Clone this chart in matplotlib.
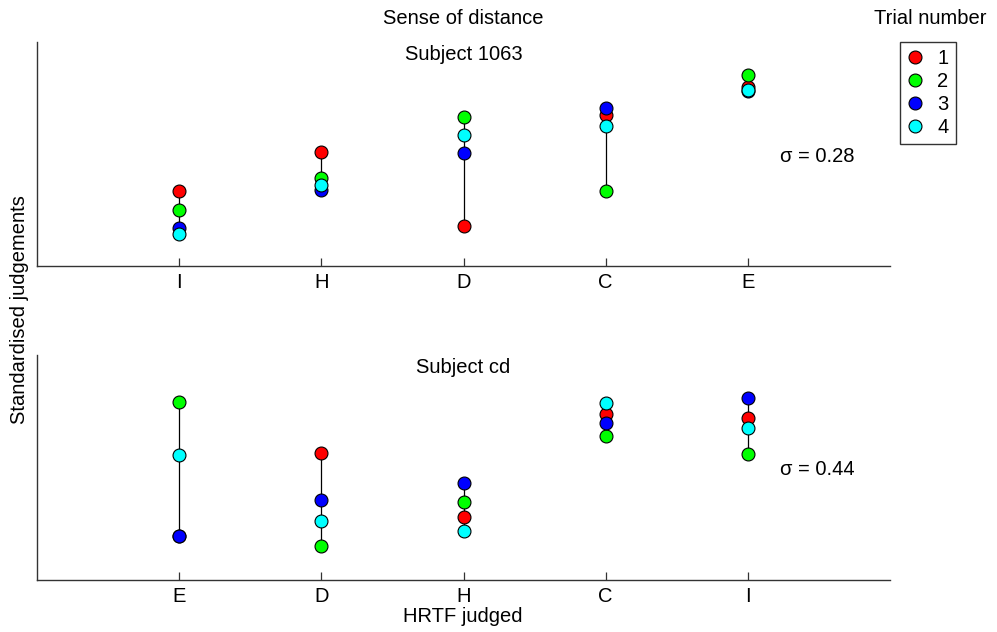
import matplotlib
matplotlib.use("Agg")
import matplotlib.pyplot as plt
from matplotlib.lines import Line2D

plt.rcParams["font.family"] = ["Liberation Sans", "DejaVu Sans"]

TRIALS = ["1", "2", "3", "4"]
TRIAL_COLORS = ["#ff0000", "#00ff00", "#0000ff", "#00ffff"]

# Subject 1063: HRTF order along the x axis, one list per trial
CATS_1063 = ["I", "H", "D", "C", "E"]
T1_1063 = [-0.83, 0.04, -1.61, 0.88, 1.50]
T2_1063 = [-1.24, -0.54, 0.82, -0.83, 1.77]
T3_1063 = [-1.65, -0.80, 0.03, 1.03, 1.40]
T4_1063 = [-1.79, -0.70, 0.43, 0.62, 1.44]
SIGMA_1063 = 0.28

# Subject cd
CATS_CD = ["E", "D", "H", "C", "I"]
T1_CD = [-1.53, 0.32, -1.10, 1.18, 1.10]
T2_CD = [1.46, -1.74, -0.76, 0.69, 0.30]
T3_CD = [-1.52, -0.73, -0.34, 0.99, 1.55]
T4_CD = [0.27, -1.19, -1.42, 1.43, 0.87]
SIGMA_CD = 0.44

FS = 14.5
SPINE = "#333333"


def panel(ax, cats, trials, title, sigma):
    x = list(range(1, len(cats) + 1))
    for i, xi in enumerate(x):
        vals = [t[i] for t in trials]
        ax.plot([xi, xi], [min(vals), max(vals)], color="black", lw=0.9, zorder=1)
    for t, c in zip(trials, TRIAL_COLORS):
        ax.plot(x, t, "o", ls="none", ms=9.3, mfc=c, mec="black", mew=0.8, zorder=2)
    ax.set_xlim(0, 6)
    ax.set_ylim(-2.5, 2.5)
    ax.set_xticks(x)
    ax.set_xticklabels(cats, fontsize=FS)
    ax.set_yticks([])
    ax.tick_params(axis="x", direction="in", length=6, width=0.9, color=SPINE, pad=5)
    for s in ["top", "right"]:
        ax.spines[s].set_visible(False)
    for s in ["left", "bottom"]:
        ax.spines[s].set_color(SPINE)
        ax.spines[s].set_linewidth(1.0)
    ax.text(3, 2.22, title, ha="center", va="center", fontsize=FS)
    ax.text(5.49, -0.05, f"\u03c3 = {sigma:.2f}", ha="center", va="center", fontsize=FS)


fig = plt.figure(figsize=(9.97, 6.32), dpi=100)
ax1 = fig.add_axes([0.0371, 0.5791, 0.8556, 0.3544])
ax2 = fig.add_axes([0.0371, 0.0823, 0.8556, 0.3560])

panel(ax1, CATS_1063, [T1_1063, T2_1063, T3_1063, T4_1063], "Subject 1063", SIGMA_1063)
panel(ax2, CATS_CD, [T1_CD, T2_CD, T3_CD, T4_CD], "Subject cd", SIGMA_CD)

fig.text(463 / 997, 1 - 18 / 632, "Sense of distance", ha="center", va="center", fontsize=FS)
fig.text(463 / 997, 1 - 617 / 632, "HRTF judged", ha="center", va="center", fontsize=FS)
fig.text(20 / 997, 1 - 310 / 632, "Standardised judgements", ha="center", va="center",
         rotation=90, fontsize=FS)
fig.text(930 / 997, 1 - 18 / 632, "Trial number", ha="center", va="center", fontsize=FS)

handles = [Line2D([], [], marker="o", ls="none", ms=9.3, mfc=c, mec="black", mew=0.8)
           for c in TRIAL_COLORS]
leg = fig.legend(handles, TRIALS, loc="upper left", bbox_to_anchor=(900 / 997, 1 - 42 / 632),
                 fontsize=FS, frameon=True, fancybox=False, handlelength=0.8,
                 handletextpad=0.7, borderpad=0.35, labelspacing=0.2, borderaxespad=0)
leg.get_frame().set_edgecolor("black")
leg.get_frame().set_linewidth(1.0)

fig.savefig("out.png", dpi=100)
